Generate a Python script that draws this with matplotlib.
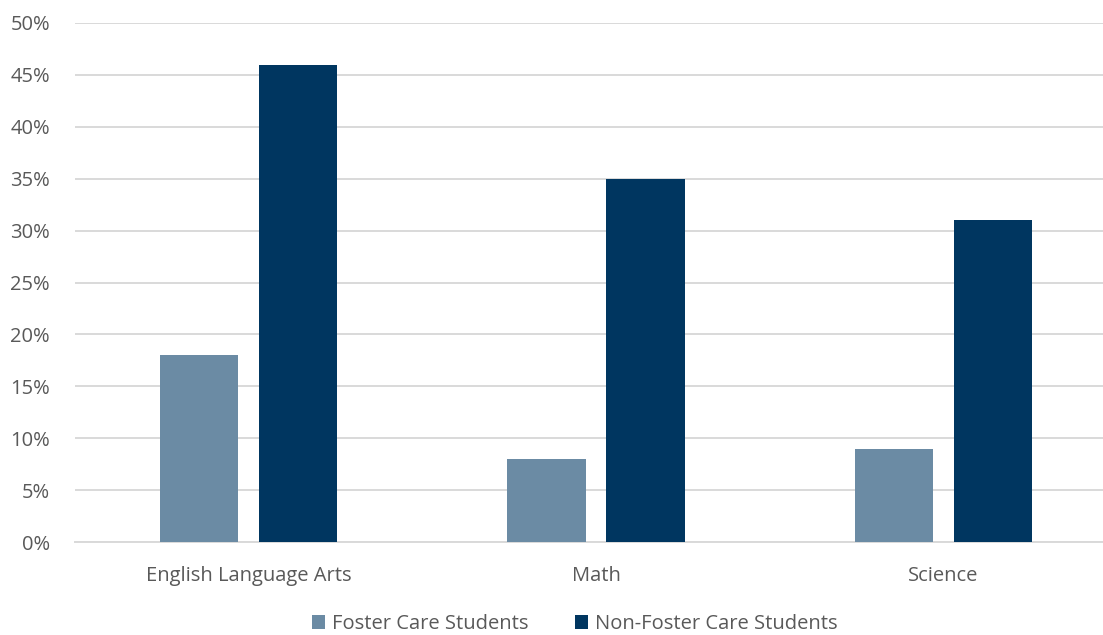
import matplotlib
matplotlib.use("Agg")
import matplotlib.pyplot as plt
import numpy as np
from matplotlib.ticker import FuncFormatter

categories = ["English Language Arts", "Math", "Science"]
foster = [18, 8, 9]
non_foster = [46, 35, 31]
series_names = ["Foster Care Students", "Non-Foster Care Students"]
colors = ["#6B8BA4", "#003660"]

plt.rcParams["font.family"] = ["Open Sans", "DejaVu Sans"]
text_color = "#595959"
fs = 14.5

fig = plt.figure(figsize=(11.03, 6.35), dpi=100)
ax = fig.add_axes([75 / 1103, 93 / 635, 1042 / 1103, 519 / 635])

x = np.arange(len(categories))
width = 0.2246
offset = 0.1425
b1 = ax.bar(x - offset, foster, width, color=colors[0], label=series_names[0], zorder=3)
b2 = ax.bar(x + offset, non_foster, width, color=colors[1], label=series_names[1], zorder=3)

ax.set_xlim(-0.5, 2.5)
ax.set_ylim(0, 50)
ax.set_yticks(np.arange(0, 51, 5))
ax.yaxis.set_major_formatter(FuncFormatter(lambda v, p: f"{int(v)}%"))
ax.grid(axis="y", color="#D9D9D9", linewidth=1.4, zorder=0)
ax.set_axisbelow(True)
for s in ["top", "right", "left"]:
    ax.spines[s].set_visible(False)
ax.spines["bottom"].set_color("#D9D9D9")
ax.spines["bottom"].set_linewidth(1.4)
ax.set_xticks(x)
ax.set_xticklabels(categories)
ax.tick_params(axis="both", length=0, labelsize=fs, labelcolor=text_color)
ax.tick_params(axis="x", pad=17.5)
ax.tick_params(axis="y", pad=18)

fig.legend(handles=[b1, b2], loc="center", bbox_to_anchor=(0.521, 1 - 624 / 635),
           ncol=2, frameon=False, fontsize=fs, labelcolor=text_color,
           borderpad=0.2,
           handlelength=0.65, handleheight=0.65, handletextpad=0.35, columnspacing=2.3)

fig.savefig("out.png", dpi=100)
